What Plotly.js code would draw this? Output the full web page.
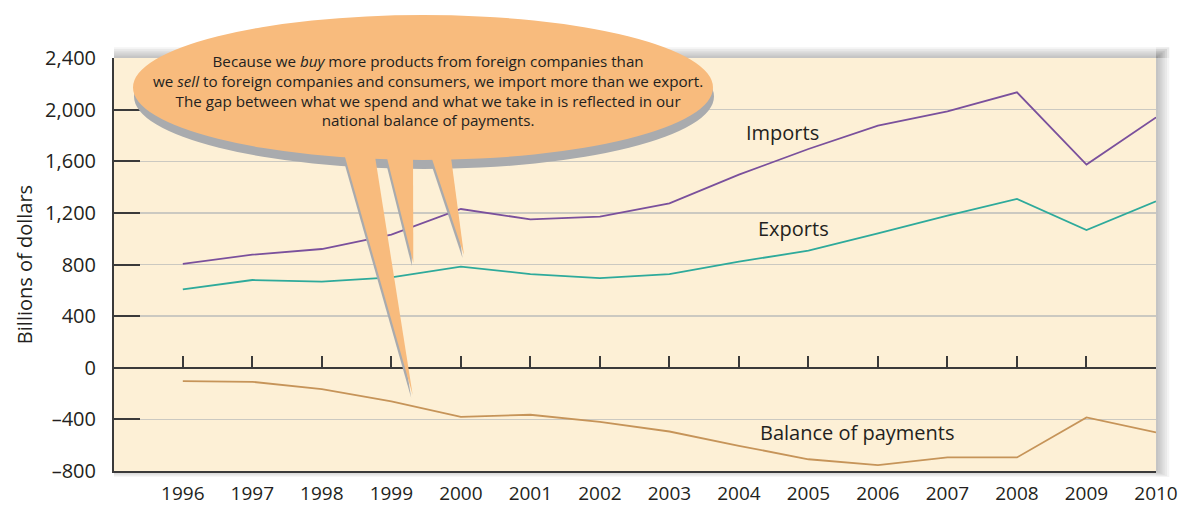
<!DOCTYPE html>
<html>
<head>
<meta charset="utf-8">
<script src="https://cdn.plot.ly/plotly-3.0.1.min.js"></script>
<style>
  html, body { margin: 0; padding: 0; background: #ffffff; }
  #chart { width: 1181px; height: 509px; }
</style>
</head>
<body>
<div id="chart"></div>
<script>
// ---- data (billions of dollars) ----
const years = [1996, 1997, 1998, 1999, 2000, 2001, 2002, 2003, 2004, 2005, 2006, 2007, 2008, 2009, 2010];
const imports = [804, 876, 920, 1031, 1230, 1150, 1171, 1274, 1496, 1695, 1876, 1987, 2134, 1574, 1940];
const exportsVals = [607, 680, 667, 700, 783, 726, 695, 726, 822, 907, 1041, 1178, 1308, 1067, 1289];
const balance = [-103, -109, -165, -261, -380, -364, -419, -494, -605, -709, -754, -695, -695, -385, -501];
const yTickVals = [-800, -400, 0, 400, 800, 1200, 1600, 2000, 2400];
const yTickText = ['\u2013800', '\u2013400', '0', '400', '800', '1,200', '1,600', '2,000', '2,400'];
const xTickText = years.map(String);
const seriesNames = ['Imports', 'Exports', 'Balance of payments'];
const bubbleText = 'Because we <i>buy</i> more products from foreign companies than<br>' +
  'we <i>sell</i> to foreign companies and consumers, we import more than we export.<br>' +
  'The gap between what we spend and what we take in is reflected in our<br>' +
  'national balance of payments.';

// ---- geometry helpers (pixel -> paper) ----
const PL = 114, PR = 1156, PT = 58, PB = 471;
const px = x => (x - PL) / (PR - PL);
const py = y => (PB - y) / (PB - PT);
const pathOf = pts => 'M ' + pts.map(p => px(p[0]) + ',' + py(p[1])).join(' L ') + ' Z';

const FONT = '"Open Sans", "Liberation Sans", sans-serif';
const INK = '#231F20';
const AXIS = '#3a3a3a';
const ORANGE = '#F8BB7D';
const SHADOW = '#A9ABAE';

// plot frame drop shadow (outside the plotting area)
const shapes = [];
for (let i = 1; i <= 6; i++) {
  shapes.push({type: 'rect', xref: 'paper', yref: 'paper', layer: 'below', line: {width: 0},
    fillcolor: 'rgba(70,70,75,0.06)', x0: px(PL), x1: px(PR + 2.2 * i), y0: py(PT), y1: py(PT - 1.8 * i)});
  shapes.push({type: 'rect', xref: 'paper', yref: 'paper', layer: 'below', line: {width: 0},
    fillcolor: 'rgba(70,70,75,0.06)', x0: px(PR), x1: px(PR + 2.2 * i), y0: py(PT - 1.8 * i), y1: py(PB + i)});
  shapes.push({type: 'rect', xref: 'paper', yref: 'paper', layer: 'below', line: {width: 0},
    fillcolor: 'rgba(70,70,75,0.05)', x0: px(PL), x1: px(PR), y0: py(PB), y1: py(PB + i)});
}

// speech bubble
const ell = {x0: 133, x1: 713, y0: 15, y1: 160};
const spikes = [
  [[343, 150], [374, 150], [412.7, 395]],
  [[385, 150], [413, 150], [413.3, 263]],
  [[429, 150], [450, 150], [464, 255]]
];
const sdx = 1, sdy = 9;
shapes.push({type: 'circle', xref: 'paper', yref: 'paper', layer: 'above', line: {width: 0}, fillcolor: SHADOW,
  x0: px(ell.x0 + sdx), x1: px(ell.x1 + sdx), y0: py(ell.y1 + sdy), y1: py(ell.y0 + sdy)});
spikes.forEach(s => shapes.push({type: 'path', xref: 'paper', yref: 'paper', layer: 'above', line: {width: 0},
  fillcolor: SHADOW, path: pathOf(s.map(p => [p[0] - 1.5, p[1] + 3]))}));
shapes.push({type: 'circle', xref: 'paper', yref: 'paper', layer: 'above', line: {width: 0}, fillcolor: ORANGE,
  x0: px(ell.x0), x1: px(ell.x1), y0: py(ell.y1), y1: py(ell.y0)});
spikes.forEach(s => shapes.push({type: 'path', xref: 'paper', yref: 'paper', layer: 'above', line: {width: 0},
  fillcolor: ORANGE, path: pathOf(s)}));

const traces = [
  {x: years, y: imports, name: seriesNames[0], type: 'scatter', mode: 'lines',
   line: {color: '#7A509C', width: 1.8}, hoverinfo: 'skip'},
  {x: years, y: exportsVals, name: seriesNames[1], type: 'scatter', mode: 'lines',
   line: {color: '#2EAA9B', width: 1.8}, hoverinfo: 'skip'},
  {x: years, y: balance, name: seriesNames[2], type: 'scatter', mode: 'lines', xaxis: 'x2',
   line: {color: '#C69459', width: 1.8}, hoverinfo: 'skip'}
];

const xRange = [1995.01, 2010];
const layout = {
  width: 1181, height: 509,
  margin: {l: PL, r: 1181 - PR, t: PT, b: 509 - PB},
  paper_bgcolor: '#ffffff',
  plot_bgcolor: '#FDF0D6',
  showlegend: false,
  font: {family: FONT, color: INK},
  xaxis: {
    range: xRange, tickvals: years, ticktext: xTickText,
    showgrid: false, zeroline: false, ticks: '',
    showline: true, linecolor: AXIS, linewidth: 2,
    tickfont: {size: 19, color: INK, family: FONT}, ticklabelstandoff: 4
  },
  xaxis2: {
    range: xRange, tickvals: years, overlaying: 'x', anchor: 'free', position: 0.25, side: 'bottom',
    showgrid: false, zeroline: false, showticklabels: false,
    ticks: 'inside', ticklen: 11, tickwidth: 2, tickcolor: AXIS,
    showline: true, linecolor: AXIS, linewidth: 2
  },
  yaxis: {
    range: [-800, 2400], tickvals: yTickVals, ticktext: yTickText,
    showgrid: true, gridcolor: '#CBC9C1', gridwidth: 1.5, zeroline: false,
    ticks: 'inside', ticklen: 26, tickwidth: 2, tickcolor: AXIS,
    showline: true, linecolor: AXIS, linewidth: 2,
    tickfont: {size: 20, color: INK, family: FONT}, ticklabelstandoff: 12,
    title: {text: 'Billions of dollars', font: {size: 20, color: INK, family: FONT}, standoff: 7}
  },
  shapes: shapes,
  annotations: [
    {xref: 'paper', yref: 'paper', x: px(428), y: py(91), xanchor: 'center', yanchor: 'middle', align: 'center',
     text: bubbleText, showarrow: false, font: {size: 15.2, color: INK, family: FONT}},
    {xref: 'x', yref: 'y', x: 2004.08, y: 1822, xanchor: 'left', yanchor: 'middle', text: seriesNames[0],
     showarrow: false, font: {size: 20, color: INK, family: FONT}},
    {xref: 'x', yref: 'y', x: 2004.25, y: 1078, xanchor: 'left', yanchor: 'middle', text: seriesNames[1],
     showarrow: false, font: {size: 20, color: INK, family: FONT}},
    {xref: 'x', yref: 'y', x: 2004.28, y: -504, xanchor: 'left', yanchor: 'middle', text: seriesNames[2],
     showarrow: false, font: {size: 20, color: INK, family: FONT}}
  ]
};

Plotly.newPlot('chart', traces, layout, {displayModeBar: false, staticPlot: true});
</script>
</body>
</html>
